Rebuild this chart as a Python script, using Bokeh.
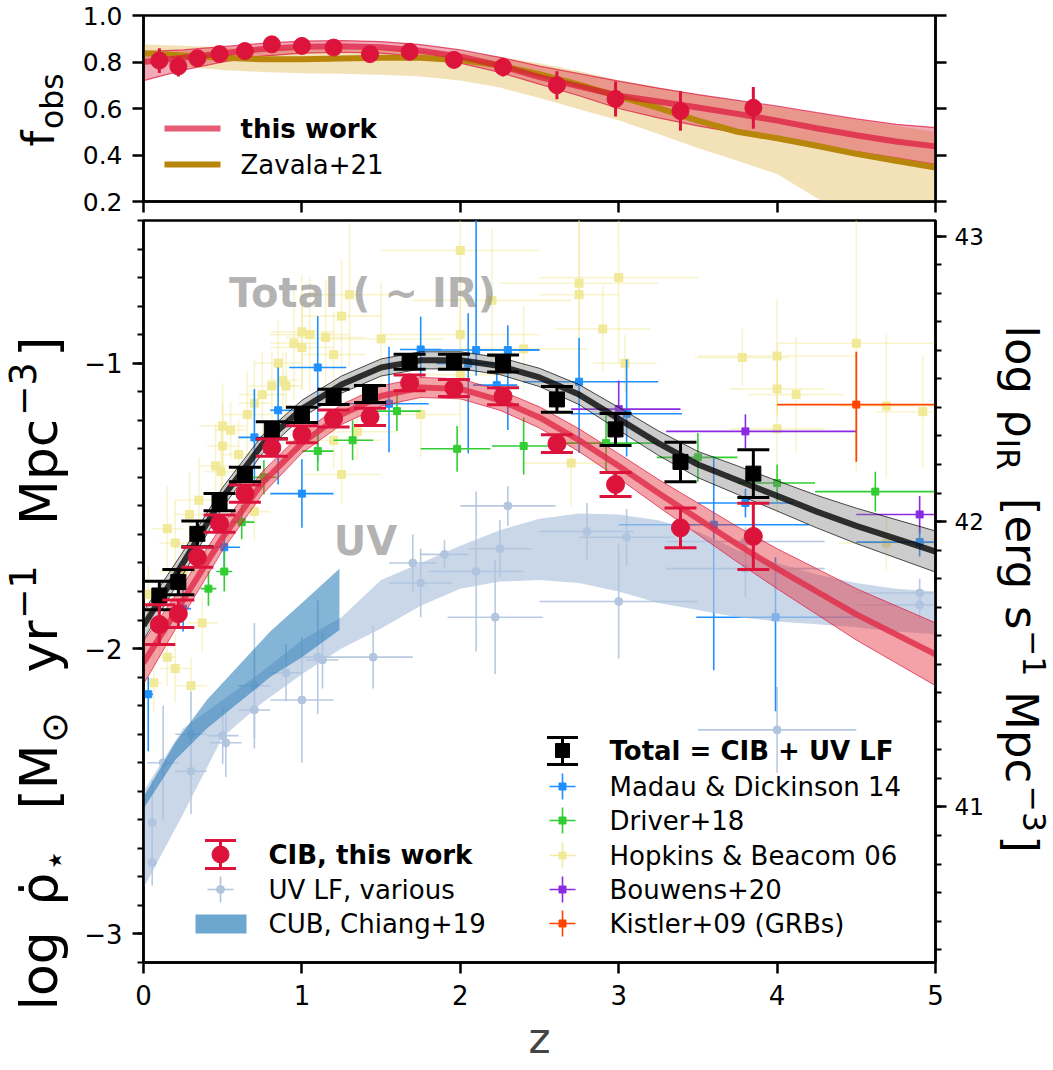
import numpy as np
from bokeh.plotting import figure
from bokeh.models import Range1d, LinearAxis, FixedTicker, Label
from bokeh.layouts import column, row
from bokeh.embed import file_html
from bokeh.resources import INLINE

FONT = "DejaVu Sans"

# ====================== data ======================
# CIB measurements (this work) and total = CIB + UV LF
z_pts = [0.10, 0.22, 0.34, 0.48, 0.64, 0.81, 1.00, 1.20, 1.43, 1.68, 1.96, 2.27, 2.61, 2.98, 3.39, 3.85]
fobs_pts = [0.806, 0.781, 0.816, 0.834, 0.847, 0.876, 0.869, 0.862, 0.834, 0.844, 0.809, 0.778, 0.700, 0.641, 0.589, 0.603]
fobs_err = [0.053, 0.043, 0.02, 0.015, 0.015, 0.015, 0.015, 0.015, 0.015, 0.015, 0.02, 0.04, 0.06, 0.075, 0.085, 0.09]
cib_sfrd = [-1.916, -1.878, -1.68, -1.562, -1.457, -1.296, -1.249, -1.194, -1.188, -1.069, -1.087, -1.116, -1.282, -1.425, -1.577, -1.607]
cib_err = [0.07, 0.048, 0.035, 0.03, 0.03, 0.03, 0.03, 0.03, 0.03, 0.028, 0.03, 0.03, 0.031, 0.042, 0.07, 0.116]
tot_sfrd = [-1.814, -1.767, -1.598, -1.487, -1.39, -1.235, -1.181, -1.118, -1.108, -0.995, -0.995, -1.001, -1.127, -1.232, -1.346, -1.387]
tot_err = [0.05, 0.044, 0.045, 0.03, 0.025, 0.03, 0.027, 0.027, 0.03, 0.026, 0.026, 0.03, 0.045, 0.056, 0.069, 0.084]

# model curves
z_grid = [0.0, 0.25, 0.5, 0.75, 1.0, 1.25, 1.5, 1.75, 2.0, 2.25, 2.5, 2.75, 3.0, 3.25, 3.5, 3.75, 4.0, 4.25, 4.5, 4.75, 5.0]
fobs_mid = [0.800, 0.818, 0.838, 0.856, 0.866, 0.868, 0.863, 0.848, 0.823, 0.785, 0.735, 0.695, 0.655, 0.630, 0.604, 0.577, 0.548, 0.515, 0.485, 0.458, 0.437]
fobs_lo = [0.720, 0.765, 0.800, 0.825, 0.838, 0.842, 0.838, 0.822, 0.795, 0.755, 0.705, 0.655, 0.600, 0.560, 0.525, 0.495, 0.468, 0.440, 0.415, 0.388, 0.360]
fobs_hi = [0.845, 0.852, 0.866, 0.880, 0.890, 0.892, 0.888, 0.875, 0.852, 0.820, 0.782, 0.750, 0.718, 0.688, 0.660, 0.635, 0.610, 0.582, 0.555, 0.532, 0.518]
zav_mid = [0.838, 0.828, 0.818, 0.812, 0.812, 0.815, 0.818, 0.818, 0.808, 0.785, 0.748, 0.703, 0.652, 0.603, 0.548, 0.500, 0.472, 0.440, 0.405, 0.375, 0.346]
zav_lo = [0.795, 0.780, 0.766, 0.757, 0.752, 0.750, 0.745, 0.738, 0.720, 0.690, 0.645, 0.597, 0.550, 0.490, 0.430, 0.375, 0.318, 0.215, 0.120, 0.040, -0.050]
zav_hi = [0.875, 0.870, 0.863, 0.858, 0.856, 0.856, 0.856, 0.851, 0.842, 0.822, 0.795, 0.760, 0.722, 0.690, 0.660, 0.632, 0.605, 0.578, 0.552, 0.526, 0.500]

tot_mid = [-1.92, -1.70, -1.47, -1.285, -1.16, -1.075, -1.015, -0.99, -0.99, -1.01, -1.05, -1.11, -1.195, -1.28, -1.355, -1.41, -1.465, -1.52, -1.57, -1.615, -1.66]
tot_band = [0.05, 0.04, 0.035, 0.032, 0.03, 0.03, 0.03, 0.03, 0.03, 0.03, 0.032, 0.035, 0.04, 0.043, 0.046, 0.05, 0.053, 0.057, 0.062, 0.067, 0.072]
cib_mid = [-2.05, -1.83, -1.61, -1.42, -1.28, -1.18, -1.115, -1.085, -1.09, -1.13, -1.19, -1.27, -1.36, -1.455, -1.545, -1.635, -1.72, -1.80, -1.88, -1.95, -2.02]
cib_band = [0.075, 0.055, 0.045, 0.04, 0.035, 0.035, 0.035, 0.035, 0.035, 0.035, 0.037, 0.04, 0.043, 0.048, 0.055, 0.062, 0.07, 0.08, 0.09, 0.10, 0.11]
uv_hi = [-2.50, -2.28, -2.18, -2.08, -1.97, -1.89, -1.76, -1.70, -1.64, -1.585, -1.545, -1.527, -1.53, -1.55, -1.59, -1.655, -1.70, -1.74, -1.77, -1.79, -1.80]
uv_lo = [-2.84, -2.58, -2.31, -2.19, -2.09, -2.00, -1.93, -1.85, -1.79, -1.765, -1.76, -1.77, -1.80, -1.84, -1.865, -1.89, -1.905, -1.915, -1.925, -1.94, -1.95]

# CUB, Chiang+19
z_cub = [0.0, 0.2, 0.4, 0.6, 0.8, 1.0, 1.237]
cub_hi = [-2.52, -2.33, -2.18, -2.06, -1.94, -1.84, -1.72]
cub_lo = [-2.56, -2.39, -2.28, -2.19, -2.10, -2.03, -1.935]

# Madau & Dickinson 14: z, sfrd, z-err(-,+), sfrd-err(-,+)
md_z = [0.03, 0.25, 0.51, 0.70, 0.85, 1.00, 1.10, 1.55, 1.75, 2.05, 2.10, 2.23, 2.30, 2.75, 3.05, 3.60, 3.80, 3.99, 4.90]
md_s = [-2.16, -1.86, -1.645, -1.26, -1.165, -1.457, -1.015, -1.142, -0.952, -1.001, -0.954, -1.077, -0.954, -1.065, -1.177, -1.566, -1.49, -1.89, -1.627]
md_zlo = [0.02, 0.05, 0.10, 0.10, 0.05, 0.20, 0.18, 0.25, 0.13, 0.20, 0.35, 0.15, 0.20, 0.35, 0.35, 0.60, 0.30, 0.50, 0.40]
md_zhi = [0.03, 0.05, 0.10, 0.10, 0.15, 0.20, 0.18, 0.25, 0.13, 0.20, 0.40, 0.13, 0.20, 0.50, 0.35, 0.60, 0.30, 0.50, 0.40]
md_slo = [0.20, 0.08, 0.07, 0.17, 0.26, 0.12, 0.33, 0.17, 0.096, 0.315, 0.09, 0.05, 0.28, 0.25, 0.15, 0.51, 0.05, 0.33, 0.05]
md_shi = [0.06, 0.08, 0.07, 0.17, 0.15, 0.12, 0.18, 0.20, 0.115, 0.176, 0.46, 0.05, 0.087, 0.153, 0.19, 0.24, 0.05, 0.21, 0.05]

# Driver+18
dr_z = [0.41, 0.51, 0.62, 0.76, 1.10, 1.32, 1.60, 1.98, 2.40, 2.92, 3.50, 4.00, 4.62]
dr_s = [-1.79, -1.73, -1.557, -1.40, -1.308, -1.27, -1.168, -1.30, -1.29, -1.28, -1.33, -1.42, -1.45]
dr_zlo = [0.05, 0.05, 0.07, 0.07, 0.10, 0.12, 0.15, 0.23, 0.20, 0.27, 0.26, 0.25, 0.38]
dr_zhi = [0.05, 0.05, 0.08, 0.08, 0.10, 0.13, 0.15, 0.21, 0.25, 0.33, 0.25, 0.24, 0.38]
dr_serr = [0.06, 0.07, 0.06, 0.06, 0.07, 0.07, 0.07, 0.08, 0.10, 0.10, 0.085, 0.065, 0.07]

# Hopkins & Beacom 06
hb_z = [0.03, 0.065, 0.10, 0.15, 0.15, 0.20, 0.20, 0.25, 0.29, 0.30, 0.35, 0.37, 0.455, 0.49, 0.50, 0.50,
        0.55, 0.60, 0.655, 0.70, 0.70, 0.75, 0.81, 0.85, 0.88, 0.90, 0.95, 1.00, 1.00, 1.05, 1.15, 1.20,
        1.20, 1.25, 1.25, 1.30, 1.35, 1.50, 1.75, 2.00, 2.00, 2.00, 2.20, 2.40, 2.70, 2.75, 2.75, 2.90,
        3.00, 3.04, 3.78, 4.00, 4.00, 4.12, 4.00, 4.50, 4.69, 4.92, 4.69]
hb_s = [-1.81, -2.12, -1.90, -2.03, -1.58, -2.07, -1.63, -1.73, -1.53, -2.13, -1.48, -1.91, -1.36, -1.38, -1.22, -1.29,
        -1.235, -1.32, -1.18, -1.14, -1.52, -1.11, -1.08, -1.00, -1.06, -1.08, -0.93, -0.89, -0.945, -0.90, -0.91, -0.97,
        -1.27, -0.835, -1.39, -0.76, -1.24, -0.915, -1.18, -0.605, -0.90, -1.04, -0.78, -0.95, -1.35, -0.72, -0.76, -0.88,
        -0.70, -1.00, -0.98, -0.975, -1.09, -1.11, -1.23, -0.93, -1.15, -1.17, -1.63]
hb_zerr = [0.03, 0.05, 0.05, 0.05, 0.10, 0.10, 0.10, 0.15, 0.10, 0.10, 0.15, 0.10, 0.10, 0.10, 0.15, 0.10,
           0.10, 0.10, 0.15, 0.10, 0.10, 0.15, 0.15, 0.15, 0.10, 0.10, 0.15, 0.20, 0.20, 0.25, 0.25, 0.20,
           0.30, 0.25, 0.25, 0.30, 0.25, 0.40, 0.25, 0.50, 0.50, 0.30, 0.50, 0.40, 0.30, 0.50, 0.25, 0.30,
           0.50, 0.20, 0.30, 0.50, 0.30, 0.30, 0.30, 0.50, 0.30, 0.30, 0.30]
hb_serr = [0.10, 0.10, 0.12, 0.10, 0.15, 0.12, 0.15, 0.10, 0.15, 0.10, 0.15, 0.10, 0.15, 0.15, 0.15, 0.15,
           0.10, 0.12, 0.15, 0.15, 0.10, 0.15, 0.12, 0.15, 0.10, 0.12, 0.20, 0.20, 0.15, 0.20, 0.20, 0.15,
           0.10, 0.20, 0.10, 0.25, 0.10, 0.20, 0.15, 0.30, 0.20, 0.20, 0.25, 0.15, 0.15, 0.30, 0.30, 0.15,
           0.30, 0.10, 0.10, 0.20, 0.10, 0.20, 0.30, 0.45, 0.25, 0.20, 0.10]

# Bouwens+20 and Kistler+09 (GRBs)
bw_z = [3.00, 3.80, 4.90]
bw_s = [-1.161, -1.239, -1.53]
bw_zlo = [0.30, 0.50, 0.40]
bw_zhi = [0.39, 0.70, 0.20]
bw_serr = [0.10, 0.06, 0.065]
ki_z = [4.50]
ki_s = [-1.145]
ki_zerr = [0.50]
ki_slo = [0.20]
ki_shi = [0.185]

# UV LF, various
uv_z = [0.055, 0.055, 0.124, 0.30, 0.30, 0.50, 0.52, 0.70, 0.70, 0.90, 1.00, 1.10, 1.13, 1.45, 1.70,
        1.75, 1.90, 2.10, 2.22, 2.25, 2.30, 2.80, 3.00, 3.05, 3.80, 3.80, 4.00, 4.90, 4.90]
uv_s = [-2.61, -2.75, -2.40, -2.30, -2.43, -2.305, -2.33, -2.13, -2.215, -2.085, -2.18, -2.03, -2.04, -2.03, -1.70,
        -1.77, -1.67, -1.73, -1.89, -1.65, -1.50, -1.59, -1.835, -1.61, -1.625, -1.72, -2.285, -1.805, -1.847]
uv_zerr = [0.03, 0.03, 0.10, 0.10, 0.10, 0.10, 0.10, 0.10, 0.10, 0.10, 0.20, 0.10, 0.10, 0.25, 0.15,
           0.20, 0.15, 0.30, 0.30, 0.20, 0.30, 0.30, 0.50, 0.30, 0.50, 0.50, 0.50, 0.40, 0.40]
uv_serr = [0.15, 0.08, 0.20, 0.15, 0.15, 0.10, 0.12, 0.22, 0.10, 0.10, 0.22, 0.20, 0.10, 0.11, 0.10,
           0.12, 0.05, 0.28, 0.20, 0.10, 0.07, 0.10, 0.20, 0.10, 0.05, 0.10, 0.15, 0.05, 0.05]

# axes
z_ticks = [0, 1, 2, 3, 4, 5]
f_ticks = [0.2, 0.4, 0.6, 0.8, 1.0]
f_tick_labels = {0.2: "0.2", 0.4: "0.4", 0.6: "0.6", 0.8: "0.8", 1: "1.0"}
s_ticks = [-3, -2, -1]
s_tick_labels = {-1: "−1", -2: "−2", -3: "−3"}
rho_ticks = [41, 42, 43]
RHO_OFFSET = 43.555   # log rho_IR = log sfrd + offset

# ====================== layout (page pixels) ======================
W, H = 1053, 1070
LW, RW = 76, 67                   # side strips holding the rotated axis titles
CW_ = W - LW - RW                 # width of the two panels
LEFT, RIGHT = 143, 935
TOP1, BOT1, H1 = 15, 201, 218
FIG2_TOP = 218
TOP2, BOT2 = 220, 962
H2 = H - FIG2_TOP
ZMIN, ZMAX = 0.0, 5.0
FMIN, FMAX = 0.2, 1.0
SMIN, SMAX = -3.1, -0.5

C_RED = "#dc143c"
C_GOLD = "#b8860b"
C_MD = "#1e90ff"
C_DR = "#32cd32"
C_HB = "#f0e68c"
C_BW = "#8a2be2"
C_KI = "#ff4500"
C_UV = "#b0c4de"
C_CUB = "#1f77b4"


def zx(X):
    return ZMIN + (X - LEFT) / (RIGHT - LEFT) * (ZMAX - ZMIN)


def fy(Y):
    return FMAX - (Y - TOP1) / (BOT1 - TOP1) * (FMAX - FMIN)


def sy(Y):
    return SMAX - (Y - TOP2) / (BOT2 - TOP2) * (SMAX - SMIN)


CHW = {"l": 0.278, "o": 0.612, "g": 0.635, " ": 0.318, "[": 0.390, "]": 0.390, "M": 0.863,
       "y": 0.592, "r": 0.411, "p": 0.635, "c": 0.550, "e": 0.615, "s": 0.521, "f": 0.352,
       "b": 0.635, "I": 0.295, "R": 0.695, "ρ": 0.640, "\u0307": 0.0, "−": 0.838, "1": 0.636,
       "3": 0.636, "⊙": 0.838, "⋆": 0.55}


def tw(t):
    return sum(CHW.get(ch, 0.6) for ch in t)


def style_axis(ax, ticks, minor=None, size="26px", show=True, standoff=11):
    ax.ticker = FixedTicker(ticks=ticks, minor_ticks=minor or [])
    ax.major_tick_out = 11
    ax.major_tick_in = 0
    ax.minor_tick_out = 6
    ax.minor_tick_in = 0
    ax.major_tick_line_width = 2.5
    ax.minor_tick_line_width = 1.8
    ax.axis_line_width = 2.5
    ax.major_tick_line_color = "black"
    ax.minor_tick_line_color = "black" if minor else None
    ax.major_label_text_font = FONT
    ax.major_label_text_color = "black"
    ax.major_label_standoff = standoff
    if show:
        ax.major_label_text_font_size = size
    else:
        ax.major_label_text_font_size = "0px"
        ax.major_label_text_alpha = 0
        ax.major_label_standoff = 0


def make_fig(height, top, bottom, yr):
    p = figure(width=CW_, height=height, x_range=Range1d(ZMIN, ZMAX), y_range=yr,
               output_backend="svg", toolbar_location=None,
               min_border_left=LEFT - LW, min_border_right=(W - RW) - RIGHT,
               min_border_top=top, min_border_bottom=bottom)
    p.grid.visible = False
    p.outline_line_color = "black"
    p.outline_line_width = 2.5
    p.outline_line_alpha = 1
    p.background_fill_color = "white"
    p.border_fill_color = "white"
    return p


def add_text(p, ox, oy, X, Y, text, size, bold=False, align="left", baseline="middle",
             angle=0, color="black", alpha=1.0):
    # ox, oy: page position of the frame's left / bottom edge
    p.add_layout(Label(x=X - ox, y=oy - Y, x_units="screen", y_units="screen",
                       text=text, text_font=FONT, text_font_size=f"{size:.1f}px",
                       text_font_style="bold" if bold else "normal",
                       text_align=align, text_baseline=baseline, angle=angle,
                       angle_units="deg", text_color=color, text_alpha=alpha))


def vtext(p, ox, oy, pieces, Xb, Ystart, up, size):
    """Rotated title made of pieces (text, scale, baseline shift in em, gap before in em)."""
    Y = Ystart
    sgn = -1 if up else 1
    for txt, sc, shift, gap in pieces:
        Y += sgn * gap * size
        fs = size * sc
        if up:
            xb = Xb - shift * size
            xa = xb - 0.35 * fs
        else:
            xb = Xb + shift * size
            xa = xb + 0.35 * fs
        add_text(p, ox, oy, xa, Y, txt, fs, baseline="middle", angle=90 if up else -90)
        Y += sgn * tw(txt) * fs * 1.025


def errbars(p, z, s, zlo, zhi, slo, shi, color, lw, alpha):
    z = np.asarray(z, float)
    s = np.asarray(s, float)
    p.segment(z - np.asarray(zlo), s, z + np.asarray(zhi), s, line_color=color, line_width=lw, line_alpha=alpha)
    p.segment(z, s - np.asarray(slo), z, s + np.asarray(shi), line_color=color, line_width=lw, line_alpha=alpha)


def strip(width):
    f = figure(width=width, height=H, x_range=Range1d(0, width), y_range=Range1d(0, H),
               output_backend="svg", toolbar_location=None, x_axis_type=None, y_axis_type=None,
               min_border=0, min_border_left=0, min_border_right=0, min_border_top=0, min_border_bottom=0)
    f.grid.visible = False
    f.outline_line_color = None
    f.background_fill_color = "white"
    f.border_fill_color = "white"
    return f


# ====================== top panel: f_obs ======================
p1 = make_fig(H1, TOP1, H1 - BOT1, Range1d(FMIN, FMAX))
style_axis(p1.xaxis[0], z_ticks, show=False)
style_axis(p1.yaxis[0], f_ticks, size="25px", standoff=10)
p1.yaxis[0].major_label_overrides = f_tick_labels
r_ax1 = LinearAxis()
style_axis(r_ax1, f_ticks, show=False)
p1.add_layout(r_ax1, "right")

p1.varea(x=z_grid, y1=zav_lo, y2=zav_hi, fill_color="#e9c97e", fill_alpha=0.55)
p1.varea(x=z_grid, y1=fobs_lo, y2=fobs_hi, fill_color=C_RED, fill_alpha=0.36)
p1.line(z_grid, fobs_lo, line_color=C_RED, line_width=1.2, line_alpha=0.7)
p1.line(z_grid, fobs_hi, line_color=C_RED, line_width=1.2, line_alpha=0.7)
p1.line(z_grid, zav_mid, line_color=C_GOLD, line_width=6)
p1.line(z_grid, fobs_mid, line_color=C_RED, line_width=6, line_alpha=0.7)
zp = np.asarray(z_pts)
fp = np.asarray(fobs_pts)
fe = np.asarray(fobs_err)
p1.segment(zp, fp - fe, zp, fp + fe, line_color=C_RED, line_width=3)
p1.scatter(zp, fp, marker="circle", size=17, fill_color=C_RED, line_color=C_RED)

# legend (top)
p1.segment([zx(164)], [fy(128)], [zx(220)], [fy(128)], line_color=C_RED, line_width=6, line_alpha=0.7)
p1.segment([zx(164)], [fy(164)], [zx(220)], [fy(164)], line_color=C_GOLD, line_width=6)
add_text(p1, LEFT, BOT1, 240, 128, "this work", 26, bold=True)
add_text(p1, LEFT, BOT1, 240, 164, "Zavala+21", 26)

# ====================== bottom panel: SFRD ======================
p2 = make_fig(H2, TOP2 - FIG2_TOP, H - BOT2, Range1d(SMIN, SMAX))
p2.extra_y_ranges = {"rho": Range1d(SMIN + RHO_OFFSET, SMAX + RHO_OFFSET)}
s_minor = [round(v, 1) for v in np.arange(-3.1, -0.45, 0.1)]
rho_minor = [round(v, 1) for v in np.arange(40.5, 43.1, 0.1)]
style_axis(p2.xaxis[0], z_ticks, size="26px", standoff=11)
p2.xaxis[0].axis_label = "z"
p2.xaxis[0].axis_label_text_font = FONT
p2.xaxis[0].axis_label_text_font_size = "42px"
p2.xaxis[0].axis_label_text_font_style = "normal"
p2.xaxis[0].axis_label_standoff = 6
style_axis(p2.yaxis[0], s_ticks, minor=s_minor, size="26px", standoff=10)
p2.yaxis[0].major_label_overrides = s_tick_labels
r_ax2 = LinearAxis(y_range_name="rho")
style_axis(r_ax2, rho_ticks, minor=rho_minor, size="23px", standoff=8)
p2.add_layout(r_ax2, "right")

# literature data
errbars(p2, hb_z, hb_s, hb_zerr, hb_zerr, hb_serr, hb_serr, C_HB, 1.6, 0.45)
p2.scatter(hb_z, hb_s, marker="square", size=8, fill_color=C_HB, line_color=C_HB, alpha=0.85)
errbars(p2, uv_z, uv_s, uv_zerr, uv_zerr, uv_serr, uv_serr, C_UV, 1.6, 0.9)
p2.scatter(uv_z, uv_s, marker="circle", size=8, fill_color=C_UV, line_color=C_UV, alpha=0.95)
errbars(p2, md_z, md_s, md_zlo, md_zhi, md_slo, md_shi, C_MD, 1.6, 1.0)
p2.scatter(md_z, md_s, marker="square", size=7, fill_color=C_MD, line_color=C_MD)
errbars(p2, dr_z, dr_s, dr_zlo, dr_zhi, dr_serr, dr_serr, C_DR, 1.6, 1.0)
p2.scatter(dr_z, dr_s, marker="square", size=7, fill_color=C_DR, line_color=C_DR)
errbars(p2, bw_z, bw_s, bw_zlo, bw_zhi, bw_serr, bw_serr, C_BW, 1.6, 1.0)
p2.scatter(bw_z, bw_s, marker="square", size=7, fill_color=C_BW, line_color=C_BW)
errbars(p2, ki_z, ki_s, ki_zerr, ki_zerr, ki_slo, ki_shi, C_KI, 1.8, 1.0)
p2.scatter(ki_z, ki_s, marker="square", size=7, fill_color=C_KI, line_color=C_KI)

# bands
p2.varea(x=z_grid, y1=uv_lo, y2=uv_hi, fill_color=C_UV, fill_alpha=0.68)
p2.varea(x=z_cub, y1=cub_lo, y2=cub_hi, fill_color=C_CUB, fill_alpha=0.55)

# annotation texts
add_text(p2, LEFT, BOT2, 362, 292, "Total ( ~ IR)", 40, bold=True, align="center",
         color="gray", alpha=0.6)
add_text(p2, LEFT, BOT2, 365, 540, "UV", 40, bold=True, align="center",
         color="gray", alpha=0.6)

zg = np.asarray(z_grid)
tm = np.asarray(tot_mid)
tb = np.asarray(tot_band)
cm = np.asarray(cib_mid)
cb = np.asarray(cib_band)
p2.varea(x=zg, y1=tm - tb, y2=tm + tb, fill_color="gray", fill_alpha=0.4)
p2.line(zg, tm - tb, line_color="black", line_width=1, line_alpha=0.7)
p2.line(zg, tm + tb, line_color="black", line_width=1, line_alpha=0.7)
p2.varea(x=zg, y1=cm - cb, y2=cm + cb, fill_color="#e4343f", fill_alpha=0.45)
p2.line(zg, cm - cb, line_color=C_RED, line_width=1, line_alpha=0.7)
p2.line(zg, cm + cb, line_color=C_RED, line_width=1, line_alpha=0.7)
p2.line(zg, tm, line_color="black", line_width=6, line_alpha=0.78)
p2.line(zg, cm, line_color="#e0304c", line_width=6, line_alpha=0.85)

ts = np.asarray(tot_sfrd)
te = np.asarray(tot_err)
cs = np.asarray(cib_sfrd)
ce = np.asarray(cib_err)
p2.segment(zp, ts - te, zp, ts + te, line_color="black", line_width=3)
p2.scatter(zp, ts - te, marker="dash", size=32, line_color="black", line_width=3)
p2.scatter(zp, ts + te, marker="dash", size=32, line_color="black", line_width=3)
p2.scatter(zp, ts, marker="square", size=15, fill_color="black", line_color="black")
p2.segment(zp, cs - ce, zp, cs + ce, line_color=C_RED, line_width=3)
p2.scatter(zp, cs - ce, marker="dash", size=32, line_color=C_RED, line_width=3)
p2.scatter(zp, cs + ce, marker="dash", size=32, line_color=C_RED, line_width=3)
p2.scatter(zp, cs, marker="circle", size=18, fill_color=C_RED, line_color=C_RED)

# legend 1 (bottom left)
p2.segment([zx(220)], [sy(840)], [zx(220)], [sy(868)], line_color=C_RED, line_width=3)
p2.scatter([zx(220), zx(220)], [sy(840), sy(868)], marker="dash", size=31, line_color=C_RED, line_width=3)
p2.scatter([zx(220)], [sy(854)], marker="circle", size=17, fill_color=C_RED, line_color=C_RED)
p2.segment([zx(207), zx(220)], [sy(889), sy(876)], [zx(233), zx(220)], [sy(889), sy(902)],
           line_color=C_UV, line_width=1.6)
p2.scatter([zx(220)], [sy(889)], marker="circle", size=8, fill_color=C_UV, line_color=C_UV)
p2.quad(left=[zx(195)], right=[zx(246)], bottom=[sy(933)], top=[sy(914)], fill_color=C_CUB,
        fill_alpha=0.65, line_color=None)
add_text(p2, LEFT, BOT2, 268, 854, "CIB,  this work", 26, bold=True)
add_text(p2, LEFT, BOT2, 268, 889, "UV LF, various", 26)
add_text(p2, LEFT, BOT2, 268, 923, "CUB, Chiang+19", 26)

# legend 2 (bottom right)
p2.segment([zx(562)], [sy(737)], [zx(562)], [sy(764)], line_color="black", line_width=3)
p2.scatter([zx(562), zx(562)], [sy(737), sy(764)], marker="dash", size=31, line_color="black", line_width=3)
p2.scatter([zx(562)], [sy(750)], marker="square", size=14, fill_color="black", line_color="black")
leg2 = [("Madau & Dickinson 14", C_MD, 1.0), ("Driver+18", C_DR, 1.0), ("Hopkins & Beacom 06", C_HB, 0.8),
        ("Bouwens+20", C_BW, 1.0), ("Kistler+09 (GRBs)", C_KI, 1.0)]
rows = [786, 820, 855, 889, 923]
for (name, col, al), Yr in zip(leg2, rows):
    p2.segment([zx(549), zx(562)], [sy(Yr), sy(Yr - 13)], [zx(575), zx(562)], [sy(Yr), sy(Yr + 13)],
               line_color=col, line_width=1.6, line_alpha=al)
    p2.scatter([zx(562)], [sy(Yr)], marker="square", size=7, fill_color=col, line_color=col, alpha=al)
    add_text(p2, LEFT, BOT2, 609, Yr, name, 26)
add_text(p2, LEFT, BOT2, 609, 750, "Total = CIB + UV LF", 26, bold=True)

# ====================== rotated axis titles (side strips) ======================
left_strip = strip(LW)
vtext(left_strip, 0, H, [("f", 1, 0, 0), ("obs", 0.7, -0.18, 0.03)], 54, 146, True, 45)
left_pieces = [("log", 1, 0, 0), ("ρ\u0307", 1, 0, 0.45), ("⋆", 0.7, -0.18, 0.0),
               ("[M", 1, 0, 0.8), ("⊙", 0.7, -0.18, 0.0), ("yr", 1, 0, 0.75),
               ("−1", 0.7, 0.42, 0.0), ("Mpc", 1, 0, 0.75), ("−3", 0.7, 0.42, 0.0), ("]", 1, 0, 0.08)]
vtext(left_strip, 0, H, left_pieces, 57, 1010, True, 52)

right_strip = strip(RW)
right_pieces = [("log", 1, 0, 0), ("ρ", 1, 0, 0.3), ("IR", 0.7, -0.18, 0.0),
                ("[erg", 1, 0, 0.6), ("s", 1, 0, 0.3), ("−1", 0.7, 0.40, 0.0),
                ("Mpc", 1, 0, 0.3), ("−3", 0.7, 0.40, 0.0), ("]", 1, 0, 0.05)]
vtext(right_strip, W - RW, H, right_pieces, 1005, 325, False, 45)

layout = row(left_strip, column(p1, p2, spacing=0), right_strip, spacing=0)
html = file_html(layout, INLINE, "SFRD")
open("out.html", "w").write(html)
